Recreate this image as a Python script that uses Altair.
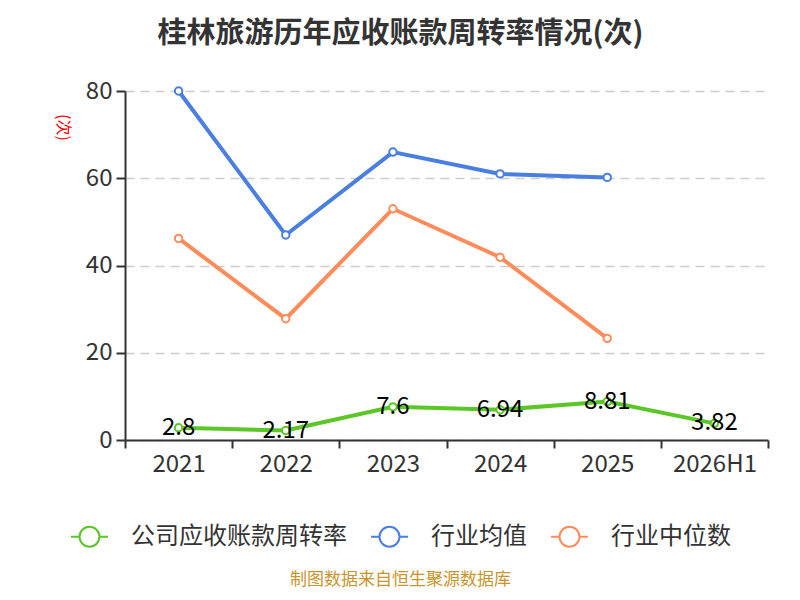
import altair as alt
import pandas as pd

categories = ["2021", "2022", "2023", "2024", "2025", "2026H1"]
series_names = ["公司应收账款周转率", "行业均值", "行业中位数"]
company = [2.8, 2.17, 7.6, 6.94, 8.81, 3.82]
industry_avg = [80.0, 47.0, 66.0, 61.0, 60.2, None]
industry_median = [46.2, 27.8, 53.0, 41.9, 23.3, None]
colors = ["#5ac727", "#4a7fe0", "#ff8c5a"]

rows = []
for name, vals in zip(series_names, [company, industry_avg, industry_median]):
    for c, v in zip(categories, vals):
        if v is not None:
            rows.append({"year": c, "series": name, "value": v,
                         "label": f"{v:g}" if name == series_names[0] else ""})
df = pd.DataFrame(rows)

FONT = "Noto Sans CJK SC"
legend_path = ("M-1,0L-0.54,0M0.54,0L1,0M-0.54,0A0.54,0.54,0,1,1,0.54,0"
               "A0.54,0.54,0,1,1,-0.54,0Z")

x = alt.X("year:N", sort=categories, scale=alt.Scale(domain=categories, paddingInner=0, paddingOuter=0),
          axis=alt.Axis(title="制图数据来自恒生聚源数据库", titleColor="#c8952c", titleFontSize=17,
                        titleFontWeight="normal", titleX=275, titleY=139, titleAnchor="middle",
                        titleAlign="center", titleBaseline="middle",
                        labelAngle=0, labelFontSize=24, labelColor="#333333", labelPadding=4,
                        tickBand="extent", tickSize=8, tickColor="#333333", tickWidth=2,
                        domainColor="#333333", domainWidth=2, grid=False))
y = alt.Y("value:Q", scale=alt.Scale(domain=[0, 80], nice=False, zero=True),
          axis=alt.Axis(title="(次)", titleColor="#ff0000", titleFontSize=16, titleFontWeight="normal",
                        titleAngle=90, titleX=-63, titleY=36, titleAlign="center", titleBaseline="middle",
                        values=[0, 20, 40, 60, 80], labelFontSize=24, labelColor="#333333",
                        labelPadding=4, tickSize=9, tickColor="#333333", tickWidth=2,
                        domainColor="#333333", domainWidth=2,
                        grid=True, gridDash=[9, 6], gridColor="#cccccc", gridWidth=1.5))
color = alt.Color("series:N", scale=alt.Scale(domain=series_names, range=colors),
                  legend=alt.Legend(title=None, orient="none", direction="horizontal",
                                    legendX=-55, legendY=426, symbolType=legend_path,
                                    symbolSize=1369, symbolStrokeWidth=2, symbolFillColor="white",
                                    labelFontSize=24, labelColor="#333333", labelOffset=22,
                                    labelLimit=0, columnPadding=20, symbolOffset=0))

base = alt.Chart(df)
lines = base.mark_line(strokeWidth=4).encode(x=x, y=y, color=color, detail="series:N")
points = base.mark_point(filled=True, fill="white", size=55, strokeWidth=2, opacity=1).encode(
    x=x, y=y, stroke=alt.Stroke("series:N", scale=alt.Scale(domain=series_names, range=colors), legend=None))
labels = base.transform_filter(alt.datum.label != "").mark_text(
    fontSize=24, color="#000000", baseline="middle", align="center", font=FONT).encode(
    x=x, y=y, text="label:N")

chart = alt.layer(lines, points, labels).properties(
    width=643, height=349,
    autosize=alt.AutoSizeParams(type="none"),
    padding={"left": 117, "top": 83, "right": 24, "bottom": 152},
    title=alt.TitleParams("桂林旅游历年应收账款周转率情况(次)", fontSize=29, fontWeight="bold",
                          color="#333333", anchor="middle", dx=-46, offset=30, font=FONT),
).configure(font=FONT).configure_view(stroke=None)

chart.save("out.html", embed_options={"renderer": "svg", "actions": False})
